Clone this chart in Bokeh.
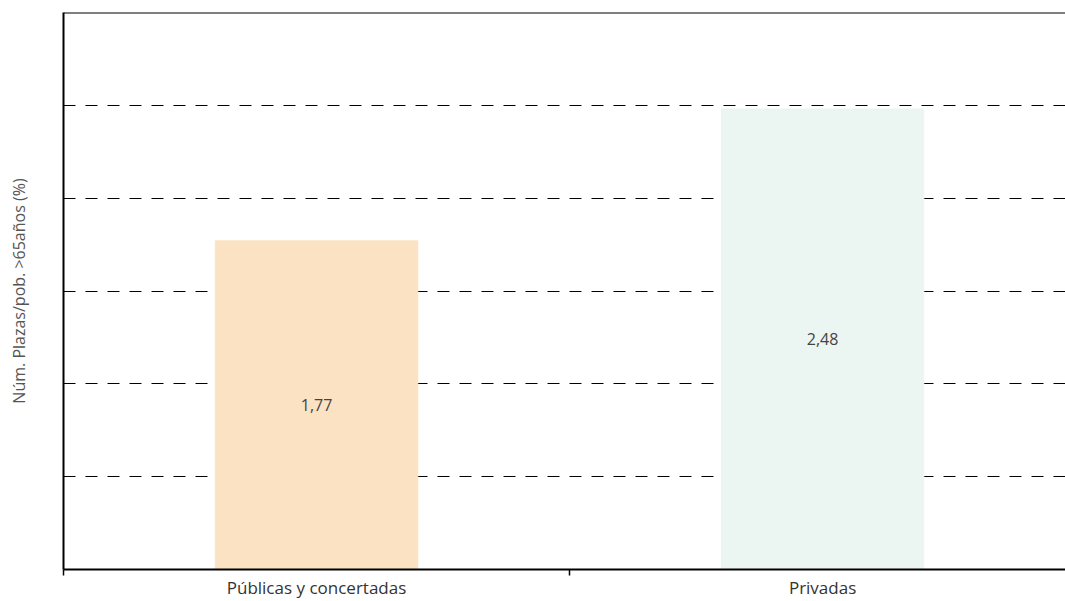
from bokeh.plotting import figure
from bokeh.models import ColumnDataSource, FixedTicker, Span, Range1d, LabelSet
from bokeh.core.properties import value
from bokeh.embed import file_html
from bokeh.resources import INLINE

categories = ["Públicas y concertadas", "Privadas"]
values = [1.77, 2.48]
colors = ["#FAE2C3", "#EBF5F1"]
labels = ["1,77", "2,48"]
grid_ticks = [0.5, 1.0, 1.5, 2.0, 2.5]
y_label = "Núm. Plazas/pob. >65años (%)"

FONT = "Open Sans"
xs = [i + 0.5 for i in range(len(categories))]
src = ColumnDataSource(dict(x=xs, top=values, color=colors, label=labels,
                            mid=[v / 2 for v in values]))

p = figure(width=1065, height=601, output_backend="svg", toolbar_location=None,
           x_range=Range1d(0, 1.98), y_range=Range1d(0, 3.0),
           min_border_left=63, min_border_right=0, min_border_top=12, min_border_bottom=30)
p.outline_line_color = None
p.background_fill_color = "white"

p.vbar(x="x", top="top", width=0.4, color="color", source=src)
p.add_layout(LabelSet(x="x", y="mid", text="label", source=src, text_align="center",
                      text_baseline="middle", text_font=value(FONT), text_font_size="16px",
                      text_color="#444444"))

# grid
p.xgrid.grid_line_color = None
p.ygrid.ticker = FixedTicker(ticks=grid_ticks)
p.ygrid.grid_line_color = "black"
p.ygrid.grid_line_dash = "12 10"
p.ygrid.grid_line_width = 1

# y axis
p.yaxis.ticker = FixedTicker(ticks=[])
p.yaxis.major_tick_line_color = None
p.yaxis.minor_tick_line_color = None
p.yaxis.major_label_text_font_size = "0px"
p.yaxis.axis_line_width = 2
p.yaxis.axis_line_color = "black"
p.yaxis.axis_label = y_label
p.yaxis.axis_label_text_font = FONT
p.yaxis.axis_label_text_font_size = "16px"
p.yaxis.axis_label_text_font_style = "normal"
p.yaxis.axis_label_text_color = "#555555"
p.yaxis.axis_label_standoff = 34

# x axis
p.xaxis.ticker = FixedTicker(ticks=xs, minor_ticks=[0, 1, 2])
p.xaxis.major_label_overrides = {x: c for x, c in zip(xs, categories)}
p.xaxis.major_tick_line_color = None
p.xaxis.minor_tick_line_color = "black"
p.xaxis.minor_tick_out = 6
p.xaxis.minor_tick_in = 0
p.xaxis.minor_tick_line_width = 1.5
p.xaxis.axis_line_width = 2
p.xaxis.axis_line_color = "black"
p.xaxis.major_label_text_font = FONT
p.xaxis.major_label_text_font_size = "17px"
p.xaxis.major_label_text_color = "#333333"
p.xaxis.major_label_standoff = 0

p.add_layout(Span(location=3.0, dimension="width", line_color="black", line_width=2))

open("out.html", "w").write(file_html(p, INLINE))
